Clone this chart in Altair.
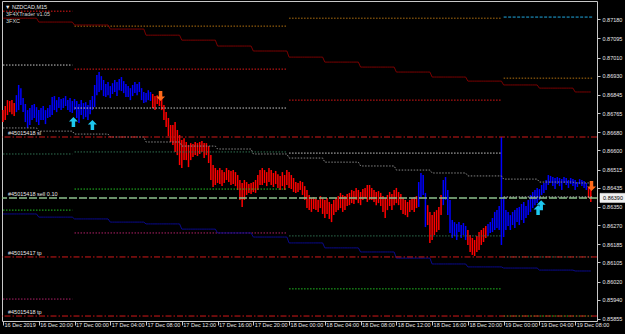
import json
import altair as alt
import pandas as pd

# ---------------- data (prices in points, 1 point = 0.00001) ----------------
# M15 bars, bar 0 = 16 Dec 2019 16:00
high_pts = [
    86778, 86796, 86822, 86818, 86822, 86809, 86844, 86889, 86875, 86831,
    86805, 86778, 86787, 86800, 86805, 86791, 86778, 86787, 86796, 86778,
    86787, 86800, 86836, 86840, 86822, 86836, 86827, 86831, 86840, 86822,
    86831, 86818, 86827, 86818, 86805, 86822, 86809, 86813, 86800, 86822,
    86840, 86889, 86933, 86946, 86928, 86911, 86893, 86902, 86884, 86897,
    86911, 86902, 86915, 86924, 86906, 86893, 86884, 86875, 86889, 86902,
    86893, 86902, 86875, 86858, 86853, 86866, 86858, 86849, 86840, 86844,
    86836, 86827, 86800, 86769, 86743, 86712, 86712, 86725, 86690, 86668,
    86646, 86654, 86637, 86624, 86632, 86628, 86637, 86632, 86637, 86641,
    86632, 86632, 86619, 86579, 86535, 86522, 86513, 86522, 86513, 86504,
    86522, 86513, 86509, 86513, 86504, 86491, 86469, 86456, 86469, 86460,
    86451, 86456, 86460, 86469, 86491, 86513, 86522, 86513, 86504, 86522,
    86513, 86500, 86509, 86495, 86487, 86504, 86491, 86513, 86504, 86491,
    86478, 86460, 86456, 86465, 86460, 86442, 86425, 86403, 86389, 86394,
    86385, 86381, 86398, 86389, 86381, 86389, 86372, 86363, 86381, 86389,
    86398, 86412, 86403, 86398, 86407, 86412, 86425, 86420, 86434, 86425,
    86416, 86429, 86434, 86447, 86447, 86434, 86425, 86416, 86420, 86412,
    86398, 86389, 86403, 86416, 86407, 86425, 86434, 86416, 86407, 86389,
    86381, 86372, 86381, 86389, 86394, 86398, 86460, 86500, 86491, 86412,
    86358, 86328, 86314, 86328, 86336, 86350, 86403, 86469, 86482, 86425,
    86381, 86292, 86283, 86275, 86283, 86270, 86279, 86266, 86248, 86226,
    86213, 86204, 86222, 86239, 86248, 86257, 86266, 86275, 86283, 86301,
    86328, 86336, 86354, 86659, 86394, 86336, 86328, 86314, 86328, 86336,
    86345, 86350, 86363, 86372, 86354, 86381, 86403, 86416, 86425, 86434,
    86429, 86447, 86456, 86469, 86491, 86487, 86482, 86478, 86482, 86478,
    86473, 86482, 86478, 86469, 86478, 86473, 86469, 86460, 86473, 86469,
    86465, 86456, 86434, 86425,
]
low_pts = [
    86725, 86734, 86756, 86769, 86760, 86752, 86769, 86778, 86800, 86769,
    86725, 86699, 86712, 86734, 86743, 86725, 86712, 86734, 86734, 86716,
    86743, 86747, 86756, 86778, 86769, 86787, 86778, 86787, 86796, 86778,
    86769, 86765, 86778, 86743, 86721, 86756, 86738, 86747, 86734, 86760,
    86778, 86791, 86844, 86858, 86866, 86840, 86836, 86844, 86831, 86849,
    86858, 86840, 86866, 86862, 86853, 86836, 86836, 86822, 86840, 86853,
    86844, 86858, 86822, 86809, 86813, 86822, 86818, 86787, 86778, 86805,
    86796, 86778, 86734, 86703, 86663, 86637, 86624, 86593, 86579, 86535,
    86522, 86557, 86557, 86526, 86557, 86571, 86579, 86575, 86584, 86593,
    86566, 86579, 86544, 86469, 86438, 86447, 86456, 86451, 86442, 86456,
    86469, 86460, 86447, 86451, 86442, 86425, 86381, 86350, 86381, 86403,
    86412, 86407, 86416, 86412, 86425, 86447, 86447, 86456, 86442, 86460,
    86447, 86438, 86451, 86434, 86425, 86442, 86425, 86447, 86434, 86429,
    86416, 86412, 86416, 86425, 86403, 86381, 86345, 86336, 86328, 86341,
    86336, 86328, 86345, 86319, 86301, 86319, 86297, 86283, 86314, 86328,
    86336, 86345, 86328, 86336, 86354, 86358, 86367, 86363, 86381, 86367,
    86358, 86381, 86389, 86372, 86381, 86381, 86372, 86358, 86367, 86354,
    86328, 86301, 86336, 86354, 86336, 86358, 86367, 86358, 86336, 86319,
    86314, 86305, 86328, 86336, 86328, 86345, 86350, 86394, 86403, 86261,
    86270, 86191, 86204, 86226, 86239, 86248, 86314, 86358, 86381, 86314,
    86235, 86213, 86222, 86204, 86239, 86213, 86226, 86204, 86182, 86151,
    86138, 86133, 86151, 86160, 86182, 86195, 86213, 86222, 86235, 86239,
    86248, 86257, 86248, 86182, 86217, 86248, 86266, 86248, 86270, 86257,
    86283, 86270, 86292, 86279, 86301, 86314, 86328, 86345, 86358, 86367,
    86381, 86403, 86412, 86425, 86447, 86456, 86442, 86429, 86451, 86442,
    86425, 86456, 86447, 86434, 86451, 86442, 86425, 86438, 86451, 86442,
    86434, 86425, 86389, 86372,
]
# bar colouring runs (trend of the indicator)
trend_runs = [("down", 6), ("up", 61), ("down", 119), ("up", 4), ("down", 7),
              ("up", 11), ("down", 9), ("up", 45), ("down", 2)]

# stepped channel values, one per 4-hour block (16 bars)
upper_band_pts = [87184, 87167, 87154, 87136, 87109, 87087, 87061, 87039, 87012,
                  86990, 86968, 86946, 86924, 86906, 86889, 86875, 86858]
lower_band_pts = [86319, 86305, 86297, 86283, 86275, 86252, 86235, 86217, 86191,
                  86169, 86151, 86124, 86098, 86085, 86080, 86071, 86067]
mid_band_pts = [86699, 86685, 86672, 86659, 86637, 86619, 86606, 86584, 86566,
                86548, 86531, 86513, 86500, 86487, 86473, 86460, 86456]

# daily level segments
day_first_bar = [0, 32, 128, 224]
day_last_bar = [31, 127, 223, 264]
level_day = [0, 0, 0, 0, 0,
             1, 1, 1, 1, 1, 1,
             2, 2, 2, 2, 2,
             3, 3, 3, 3, 3]
level_kind = ["red", "white", "dkgreen", "green", "pink",
              "brown", "red", "white", "dkgreen", "green", "pink",
              "brown", "red", "white", "dkgreen", "green",
              "cyan", "brown", "white", "dkgreen", "green"]
level_pts = [87215, 86977, 86584, 86336, 85943,
             87149, 86959, 86787, 86593, 86429, 86235,
             87184, 86822, 86588, 86222, 85988,
             87189, 86919, 86394, 86129, 85868]

# order lines
order_labels = ["#45015418 sl", "#45015418 sell 0.10", "#45015417 tp", "#45015418 tp"]
order_kind = ["stop", "open", "stop", "stop"]
order_pts = [86659, 86389, 86129, 85868]

# signal arrows
buy_arrow_bar = [31.5, 40, 239.4, 240.8]
buy_arrow_pts = [86725, 86712, 86336, 86358]
sell_arrow_bar = [70.5, 263.3]
sell_arrow_pts = [86840, 86442]

bid_pts = 86390

# header texts
header_lines = ["\u25bc NZDCAD,M15", "3F4XTrader v1.05", "3FXC"]

# axes
y_tick_values = [0.87180, 0.87095, 0.87010, 0.86930, 0.86845, 0.86765, 0.86680,
                 0.86600, 0.86515, 0.86435, 0.86350, 0.86270, 0.86185, 0.86105,
                 0.86020, 0.85940, 0.85855]
x_tick_bars = [0, 16, 32, 48, 64, 80, 96, 112, 128, 144, 160, 176, 192, 208, 224, 240, 256]
x_tick_labels = ["16 Dec 2019", "16 Dec 20:00", "17 Dec 00:00", "17 Dec 04:00",
                 "17 Dec 08:00", "17 Dec 12:00", "17 Dec 16:00", "17 Dec 20:00",
                 "18 Dec 00:00", "18 Dec 04:00", "18 Dec 08:00", "18 Dec 12:00",
                 "18 Dec 16:00", "18 Dec 20:00", "19 Dec 00:00", "19 Dec 04:00",
                 "19 Dec 08:00"]

PT = 1e-5

# ---------------- tables ----------------
n = len(high_pts)
trend = []
for name, count in trend_runs:
    trend += [name] * count
bars = pd.DataFrame({"bar": list(range(n)),
                     "high": [h * PT for h in high_pts],
                     "low": [v * PT for v in low_pts],
                     "trend": trend})

bands = pd.DataFrame({"bar": list(range(n)),
                      "upper": [upper_band_pts[i // 16] * PT for i in range(n)],
                      "lower": [lower_band_pts[i // 16] * PT for i in range(n)],
                      "mid": [mid_band_pts[i // 16] * PT for i in range(n)]})

levels = pd.DataFrame({"start": [day_first_bar[d] for d in level_day],
                       "end": [day_last_bar[d] for d in level_day],
                       "kind": level_kind,
                       "price": [p * PT for p in level_pts]})

orders = pd.DataFrame({"label": order_labels, "kind": order_kind,
                       "price": [p * PT for p in order_pts]})
buys = pd.DataFrame({"bar": buy_arrow_bar, "price": [p * PT for p in buy_arrow_pts]})
sells = pd.DataFrame({"bar": sell_arrow_bar, "price": [p * PT for p in sell_arrow_pts]})
bid = pd.DataFrame({"price": [bid_pts * PT], "label": [f"{bid_pts * PT:.5f}"]})

# ---------------- scales / axes ----------------
FONT = "Liberation Sans"
FS = 5.5
x_scale = alt.Scale(domain=[-0.45, 265.77], nice=False, zero=False)
y_scale = alt.Scale(domain=[0.85846, 0.87260], nice=False, zero=False)

label_expr = json.dumps(x_tick_labels) + "[round(datum.value / 16)]"
x_axis = alt.Axis(orient="bottom", values=x_tick_bars, labelExpr=label_expr, title=None,
                  tickSize=4, labelPadding=-3, labelAlign="left", labelOffset=1,
                  labelBaseline="top", labelOverlap=False, labelFlush=False,
                  labelBound=False, domain=False, grid=False)
y_axis = alt.Axis(orient="right", values=y_tick_values, format=".5f", title=None,
                  tickSize=3, labelPadding=2, labelOverlap=False, labelFlush=False,
                  labelBound=False, domain=False, grid=False)


def X(field):
    return alt.X(field, type="quantitative", scale=x_scale, axis=x_axis)


def Y(field):
    return alt.Y(field, type="quantitative", scale=y_scale, axis=y_axis)


# ---------------- layers ----------------
bars_down = alt.Chart(bars).transform_filter("datum.trend == 'down'").mark_rule(
    color="#ff0000", strokeWidth=1.5).encode(x=X("bar"), y=Y("low"), y2="high")
bars_up = alt.Chart(bars).transform_filter("datum.trend == 'up'").mark_rule(
    color="#0000ff", strokeWidth=1.5).encode(x=X("bar"), y=Y("low"), y2="high")

kinds = ["red", "white", "dkgreen", "green", "pink", "brown", "cyan"]
kind_colors = ["#e01818", "#c8c8c8", "#2f7050", "#22c022", "#b02068", "#b07010", "#20a8e0"]
kind_dash = [[1.5, 1.5]] * 6 + [[3, 1.5]]
level_layer = alt.Chart(levels).mark_rule(strokeWidth=1).encode(
    x=X("start"), x2="end", y=Y("price"),
    color=alt.Color("kind:N", scale=alt.Scale(domain=kinds, range=kind_colors), legend=None),
    strokeDash=alt.StrokeDash("kind:N", scale=alt.Scale(domain=kinds, range=kind_dash), legend=None),
)

upper_line = alt.Chart(bands).mark_line(color="#7a0000", strokeWidth=1).encode(x=X("bar"), y=Y("upper"))
lower_line = alt.Chart(bands).mark_line(color="#0a0a8c", strokeWidth=1).encode(x=X("bar"), y=Y("lower"))
mid_line = alt.Chart(bands).mark_line(color="#8a8a8a", strokeWidth=1, strokeDash=[1.5, 1.5]).encode(
    x=X("bar"), y=Y("mid"))

stop_lines = alt.Chart(orders).transform_filter("datum.kind == 'stop'").mark_rule(
    color="#d01818", strokeWidth=1, strokeDash=[6, 2, 1.5, 2]).encode(y=Y("price"))
open_line = alt.Chart(orders).transform_filter("datum.kind == 'open'").mark_rule(
    color="#8cc08c", strokeWidth=1.5, strokeDash=[8, 2]).encode(y=Y("price"))
order_text = alt.Chart(orders).mark_text(
    align="left", baseline="bottom", dy=-1, font=FONT, fontSize=FS, color="#e8e8e8").encode(
    x=alt.value(6), y=Y("price"), text="label:N")

up_path = "M0,-1L0.9,-0.1L0.35,-0.1L0.35,1L-0.35,1L-0.35,-0.1L-0.9,-0.1Z"
down_path = "M0,1L0.9,0.1L0.35,0.1L0.35,-1L-0.35,-1L-0.35,0.1L-0.9,0.1Z"
buy_layer = alt.Chart(buys).mark_point(shape=up_path, filled=True, size=100, color="#1ec8f0",
                                       opacity=1, strokeWidth=0).encode(x=X("bar"), y=Y("price"))
sell_layer = alt.Chart(sells).mark_point(shape=down_path, filled=True, size=100, color="#ff6a1a",
                                         opacity=1, strokeWidth=0).encode(x=X("bar"), y=Y("price"))

bid_box = alt.Chart(bid).mark_point(shape="M-2,-0.7L2,-0.7L2,0.7L-2,0.7Z", size=169, filled=True,
                                    fill="#f0f0f0", opacity=1, stroke="#ffffff", strokeWidth=0.5).encode(
    x=alt.value(611), y=Y("price"))
bid_text = alt.Chart(bid).mark_text(font=FONT, fontSize=FS, color="#000000", align="center",
                                    baseline="middle").encode(x=alt.value(611), y=Y("price"), text="label:N")

header_y = [5.5, 13, 20]
header_x = [3, 4, 4]
header_layers = [
    alt.Chart(bid).mark_text(align="left", baseline="middle", font=FONT, fontSize=FS,
                             color="#e8e8e8" if k == 0 else "#d0d0d0", text=header_lines[k]).encode(
        x=alt.value(header_x[k]), y=alt.value(header_y[k]))
    for k in range(len(header_lines))
]

chart = alt.layer(
    bars_down, bars_up, level_layer, upper_line, lower_line, mid_line,
    stop_lines, open_line, order_text, buy_layer, sell_layer, bid_box, bid_text, *header_layers,
).resolve_scale(color="independent", strokeDash="independent").properties(
    width=595, height=320,
    padding={"left": 2, "top": 1, "right": 28, "bottom": 13},
    autosize=alt.AutoSizeParams(type="none"),
    background="#000000",
).configure_view(stroke="#c8c8c8", strokeWidth=1).configure_axis(
    labelColor="#e8e8e8", tickColor="#c8c8c8", labelFont=FONT, labelFontSize=FS,
)

chart.save("out.html", embed_options={"renderer": "svg", "actions": False})
